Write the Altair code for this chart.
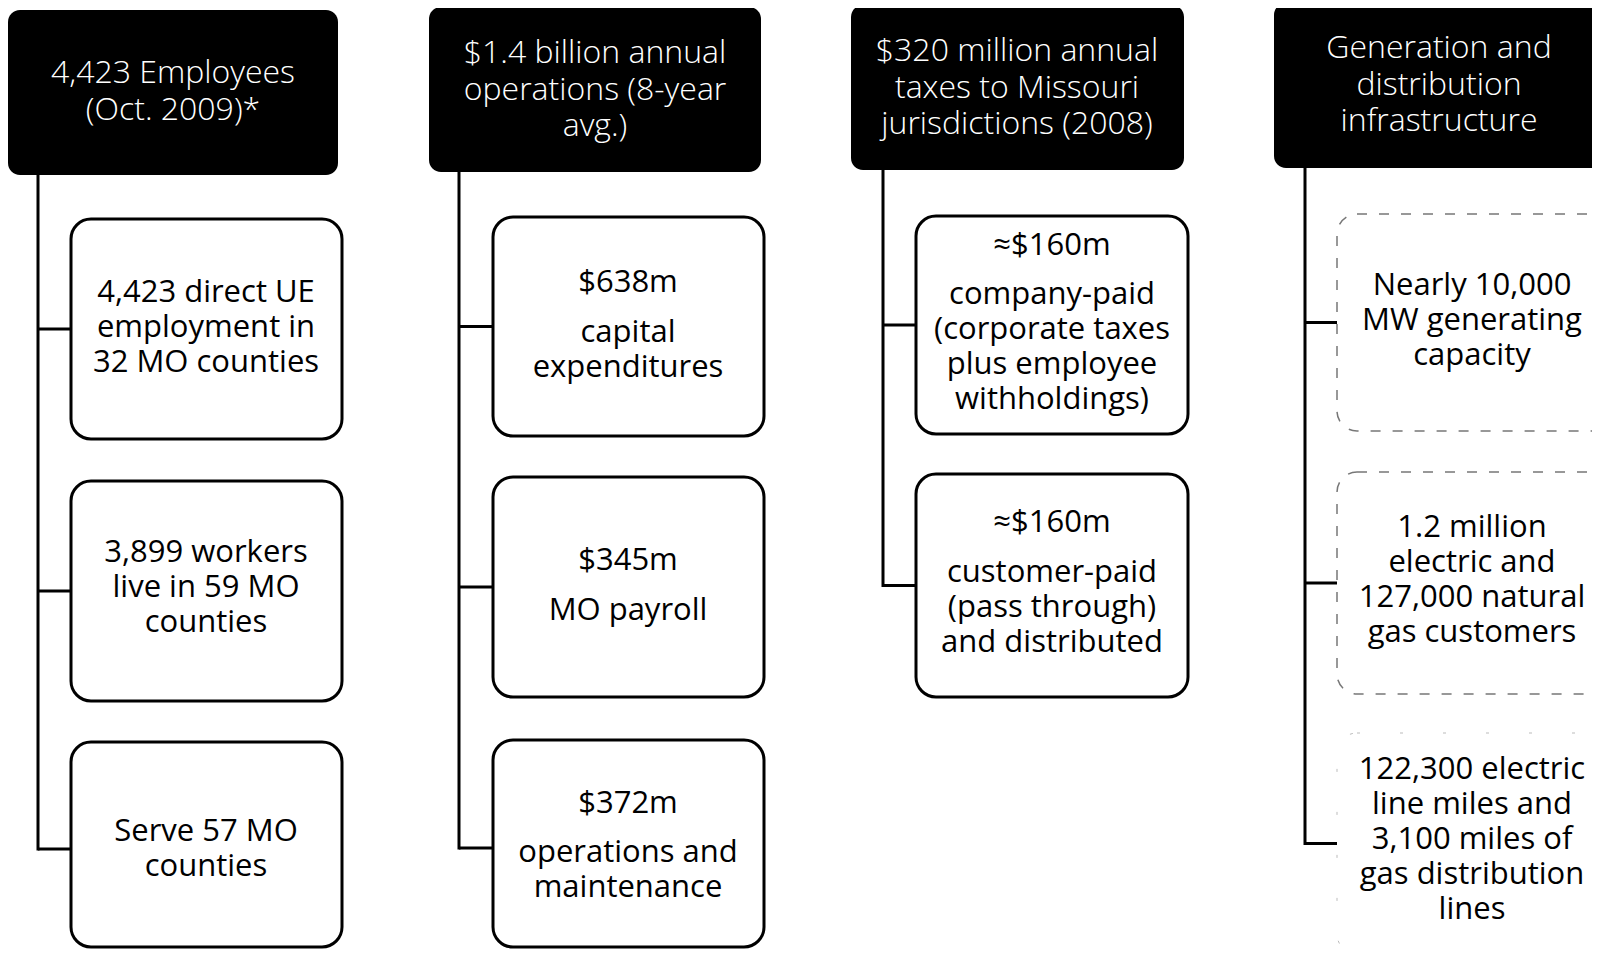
import altair as alt
import pandas as pd

# ---------------- content ----------------
HEADERS = [
    ["4,423 Employees", "(Oct. 2009)*"],
    ["$1.4 billion annual", "operations (8-year", "avg.)"],
    ["$320 million annual", "taxes to Missouri", "jurisdictions (2008)"],
    ["Generation and", "distribution", "infrastructure"],
]
# each box: (value line or None, description lines)
ITEMS_EMPLOYEES = [
    (None, ["4,423 direct UE", "employment in", "32 MO counties"]),
    (None, ["3,899 workers", "live in 59 MO", "counties"]),
    (None, ["Serve 57 MO", "counties"]),
]
ITEMS_OPERATIONS = [
    ("$638m", ["capital", "expenditures"]),
    ("$345m", ["MO payroll"]),
    ("$372m", ["operations and", "maintenance"]),
]
ITEMS_TAXES = [
    ("≈$160m", ["company-paid", "(corporate taxes", "plus employee", "withholdings)"]),
    ("≈$160m", ["customer-paid", "(pass through)", "and distributed"]),
]
ITEMS_INFRA = [
    (None, ["Nearly 10,000", "MW  generating", "capacity"]),
    (None, ["1.2 million", "electric and", "127,000 natural", "gas customers"]),
    (None, ["122,300 electric", "line miles and", "3,100 miles of", "gas distribution", "lines"]),
]
ITEMS = [ITEMS_EMPLOYEES, ITEMS_OPERATIONS, ITEMS_TAXES, ITEMS_INFRA]

# ---------------- layout (page pixels) ----------------
HEADER_BOX = [(8, 338, 10, 175), (429, 761, 7, 172), (851, 1184, 5, 170), (1274, 1610, 3, 168)]
HEADER_TEXT_X = [173, 595, 1017, 1439]
HEADER_TEXT_Y = [73, 53, 51, 48]          # first line of the header text
SPINE_X = [38, 459, 883, 1305]
BOX_X = [(71, 342), (493, 764), (916, 1188), (1337, 1610)]
BOX_TEXT_X = [206, 628, 1052, 1472]
BOX_Y = [
    [(219, 439), (481, 701), (742, 947)],
    [(217, 436), (477, 697), (740, 947)],
    [(216, 434), (474, 697)],
    [(214, 431), (472, 694), (733, 954)],
]
VALUE_Y = [
    [None, None, None],
    [283, 561, 804],
    [246, 523],
    [None, None, None],
]
DESC_Y = [                                  # first line of the description
    [293, 553, 832],
    [333, 611, 853],
    [295, 573],
    [286, 528, 770],
]

# ---------------- tables ----------------
hdr_rows, box_rows, rule_rows, txt_rows = [], [], [], []
for c in range(4):
    x1, x2, y1, y2 = HEADER_BOX[c]
    hdr_rows.append(dict(x=x1, x2=x2, y=y1, y2=y2))
    txt_rows.append(dict(x=HEADER_TEXT_X[c], y=HEADER_TEXT_Y[c], text=HEADERS[c], kind="header"))
    centers = []
    for r, (value, desc) in enumerate(ITEMS[c]):
        by1, by2 = BOX_Y[c][r]
        style = "dashed" if c == 3 else "solid"
        if c == 3 and r == 2:
            style = "faint"
        box_rows.append(dict(x=BOX_X[c][0], x2=BOX_X[c][1], y=by1, y2=by2, style=style))
        cy = (by1 + by2) / 2 if not (c < 2 and r == 2) else (by1 + 956) / 2
        centers.append(cy)
        rule_rows.append(dict(x=SPINE_X[c], x2=BOX_X[c][0], y=cy, y2=cy))
        if value is not None:
            txt_rows.append(dict(x=BOX_TEXT_X[c], y=VALUE_Y[c][r], text=[value], kind="body"))
        txt_rows.append(dict(x=BOX_TEXT_X[c], y=DESC_Y[c][r], text=desc, kind="body"))
    rule_rows.append(dict(x=SPINE_X[c], x2=SPINE_X[c], y=y2, y2=max(centers) + 1.5))

hdr = pd.DataFrame(hdr_rows)
boxes = pd.DataFrame(box_rows)
rules = pd.DataFrame(rule_rows)
texts = pd.DataFrame(txt_rows)

W, H = 1584, 942
xs = alt.Scale(domain=[8, 8 + W], zero=False, nice=False)
ys = alt.Scale(domain=[8, 8 + H], zero=False, nice=False, reverse=True)
X = lambda f: alt.X(f, type="quantitative", scale=xs, axis=None)
Y = lambda f: alt.Y(f, type="quantitative", scale=ys, axis=None)

header_layer = alt.Chart(hdr).mark_rect(color="black", cornerRadius=12).encode(
    x=X("x"), x2="x2", y=Y("y"), y2="y2")

solid = alt.Chart(boxes).transform_filter("datum.style == 'solid'").mark_rect(
    fill="white", stroke="black", strokeWidth=3, cornerRadius=20).encode(
    x=X("x"), x2="x2", y=Y("y"), y2="y2")
dashed = alt.Chart(boxes).transform_filter("datum.style == 'dashed'").mark_rect(
    fill="white", stroke="#777777", strokeWidth=1.5, strokeDash=[10, 12], cornerRadius=20).encode(
    x=X("x"), x2="x2", y=Y("y"), y2="y2")
faint = alt.Chart(boxes).transform_filter("datum.style == 'faint'").mark_rect(
    fill="white", stroke="#bbbbbb", strokeWidth=1, strokeDash=[3, 40], cornerRadius=20).encode(
    x=X("x"), x2="x2", y=Y("y"), y2="y2")

rule_layer = alt.Chart(rules).mark_rule(color="black", strokeWidth=3).encode(
    x=X("x"), x2="x2", y=Y("y"), y2="y2")

header_text = alt.Chart(texts).transform_filter("datum.kind == 'header'").mark_text(
    color="white", font="Open Sans", fontWeight=300, fontSize=32, lineHeight=36.5,
    baseline="middle", align="center").encode(
    x=X("x"), y=Y("y"), text="text")
body_text = alt.Chart(texts).transform_filter("datum.kind == 'body'").mark_text(
    color="black", font="Open Sans", fontWeight=400, fontSize=31, lineHeight=35,
    baseline="middle", align="center").encode(
    x=X("x"), y=Y("y"), text="text")

chart = alt.layer(rule_layer, header_layer, solid, dashed, faint, header_text, body_text).properties(
    width=W, height=H, autosize=alt.AutoSizeParams(type="none"), padding=0,
).configure_view(stroke=None)

chart.save("out.html", embed_options={"renderer": "svg", "actions": False})
